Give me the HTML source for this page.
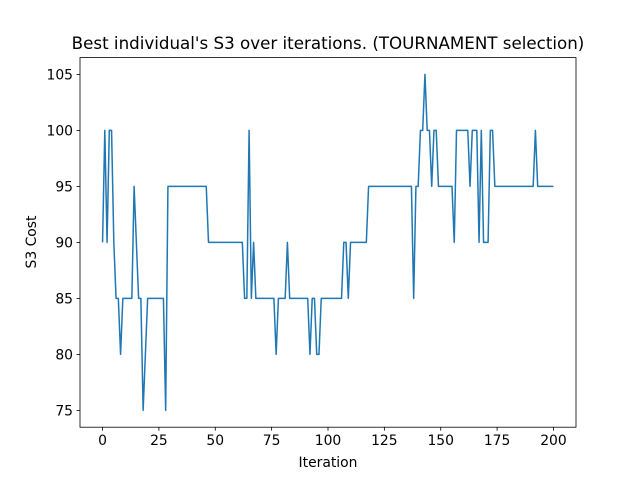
<!DOCTYPE html>
<html><head><meta charset="utf-8"><style>
body{margin:0;background:#fff}
svg{display:block;font-family:"DejaVu Sans","Liberation Sans",sans-serif}
</style></head><body>
<svg id="chart" width="640" height="480" viewBox="0 0 640 480">
<rect width="640" height="480" fill="#fff"/>
<text x="328" y="49" text-anchor="middle" font-size="16.7">Best individual's S3 over iterations. (TOURNAMENT selection)</text>
<g id="plot"></g>
<text x="328" y="467" text-anchor="middle" font-size="13.9">Iteration</text>
<text transform="translate(36,242) rotate(-90)" text-anchor="middle" font-size="13.9">S3 Cost</text>
</svg>
<script>
const xTicks=[0,25,50,75,100,125,150,175,200];
const yTicks=[75,80,85,90,95,100,105];
const s3Cost=[90,100,90,100,100,90,85,85,80,85,
85,85,85,85,95,90,85,85,75,80,
85,85,85,85,85,85,85,85,75,95,
95,95,95,95,95,95,95,95,95,95,
95,95,95,95,95,95,95,90,90,90,
90,90,90,90,90,90,90,90,90,90,
90,90,90,85,85,100,85,90,85,85,
85,85,85,85,85,85,85,80,85,85,
85,85,90,85,85,85,85,85,85,85,
85,85,80,85,85,80,80,85,85,85,
85,85,85,85,85,85,85,90,90,85,
90,90,90,90,90,90,90,90,95,95,
95,95,95,95,95,95,95,95,95,95,
95,95,95,95,95,95,95,95,85,95,
95,100,100,105,100,100,95,100,100,95,
95,95,95,95,95,95,90,100,100,100,
100,100,100,95,100,100,100,90,100,90,
90,90,100,100,95,95,95,95,95,95,
95,95,95,95,95,95,95,95,95,95,
95,95,100,95,95,95,95,95,95,95,
95];
const L=80,R=576,T=57.6,B=427.2;
const xmin=-10,xmax=210,ymin=73.5,ymax=106.5;
const sx=v=>L+(v-xmin)/(xmax-xmin)*(R-L);
const sy=v=>B-(v-ymin)/(ymax-ymin)*(B-T);
const NS="http://www.w3.org/2000/svg";
const g=document.getElementById('plot');
function mk(tag,attrs){const e=document.createElementNS(NS,tag);for(const k in attrs)e.setAttribute(k,attrs[k]);g.appendChild(e);return e;}
let d=s3Cost.map((v,i)=>(i?'L':'M')+sx(i).toFixed(2)+' '+sy(v).toFixed(2)).join(' ');
const line=mk('path',{d:d,fill:'none',stroke:'#1f77b4','stroke-width':1.5,'stroke-linejoin':'round'});


const frame=mk('rect',{x:L,y:T,width:R-L,height:B-T,fill:'none',stroke:'#000','stroke-width':0.8});


xTicks.forEach(t=>{
  const x=sx(t);
  const tk=mk('line',{x1:x,x2:x,y1:B,y2:B+3.5,stroke:'#000','stroke-width':0.8});
  
  
  const lb=mk('text',{x:x,y:B+18,'text-anchor':'middle','font-size':13.9});
  lb.textContent=t;
  
  
});
yTicks.forEach(t=>{
  const y=sy(t);
  const tk=mk('line',{x1:L-3.5,x2:L,y1:y,y2:y,stroke:'#000','stroke-width':0.8});
  
  
  const lb=mk('text',{x:L-7,y:y+5,'text-anchor':'end','font-size':13.9});
  lb.textContent=t;
  
  
});
</script>
</body></html>
